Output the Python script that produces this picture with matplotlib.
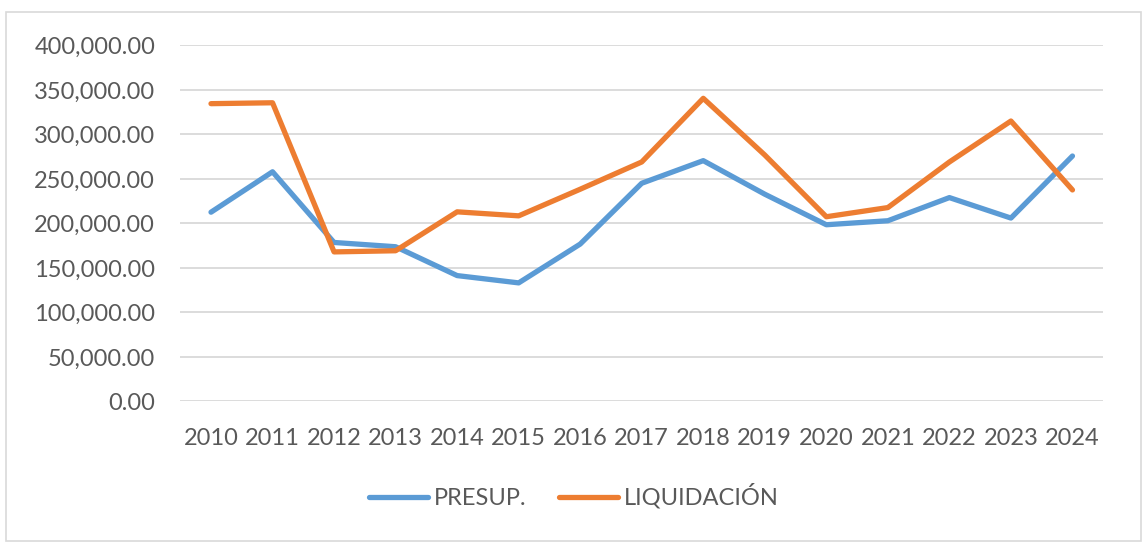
import matplotlib.pyplot as plt
from matplotlib.patches import Rectangle

years = [str(y) for y in range(2010, 2025)]
presup = [212600, 258000, 178600, 173800, 141400, 133200, 176800, 245100,
          270500, 232800, 198500, 203000, 229000, 206000, 275700]
liquidacion = [334500, 335500, 168000, 169300, 213000, 208500, 238400, 269000,
               340500, 276800, 207500, 217800, 269000, 315000, 237600]

plt.rcParams['font.family'] = ['Lato', 'DejaVu Sans']

fig = plt.figure(figsize=(11.48, 5.53), dpi=100)
ax = fig.add_axes([0.157, 0.274, 0.804, 0.644])

x = range(len(years))
ax.plot(x, presup, color='#5B9BD5', lw=3.8, label='PRESUP.', solid_capstyle='round', solid_joinstyle='round')
ax.plot(x, liquidacion, color='#ED7D31', lw=3.8, label='LIQUIDACIÓN', solid_capstyle='round', solid_joinstyle='round')

ax.set_xlim(-0.5, len(years) - 0.5)
ax.set_ylim(0, 400000)
ax.set_yticks(range(0, 400001, 50000))
ax.yaxis.set_major_formatter(plt.FuncFormatter(lambda v, p: f'{v:,.2f}'))
ax.set_xticks(list(x))
ax.set_xticklabels(years)
ax.grid(axis='y', color='#d9d9d9', lw=1.3)
ax.set_axisbelow(True)
for s in ax.spines.values():
    s.set_visible(False)
ax.tick_params(length=0, labelsize=17, colors='#595959')
ax.tick_params(axis='x', pad=19)
ax.tick_params(axis='y', pad=18)

handles, labels = ax.get_legend_handles_labels()
leg = fig.legend(handles, labels, loc='center', bbox_to_anchor=(0.5, 0.103), ncol=2, frameon=False,
                 fontsize=17, handlelength=2.5, columnspacing=1.35, handletextpad=0.25)
for t in leg.get_texts():
    t.set_color('#595959')

fig.patches.append(Rectangle((0.005, 0.022), 0.989, 0.956, transform=fig.transFigure,
                             fill=False, edgecolor='#d9d9d9', lw=1.2))

fig.savefig('out.png', dpi=100)
